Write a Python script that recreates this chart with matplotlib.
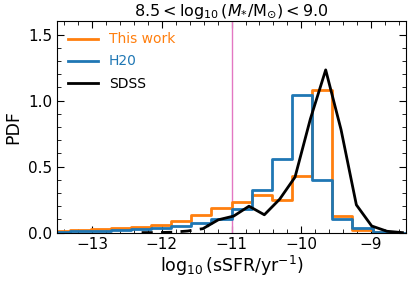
import numpy as np
import matplotlib
matplotlib.use("Agg")
import matplotlib.pyplot as plt
from matplotlib.ticker import MultipleLocator

# bin edges of the two histograms (18 bins)
bin_edges = np.linspace(-13.6, -8.4, 19)

# This work
this_work = [0.015, 0.02, 0.026, 0.035, 0.045, 0.055, 0.088, 0.133, 0.187,
             0.233, 0.285, 0.248, 0.425, 1.08, 0.122, 0.017, 0.003, 0.0]
# H20
h20 = [0.008, 0.011, 0.015, 0.02, 0.028, 0.035, 0.05, 0.072, 0.102,
       0.18, 0.323, 0.556, 1.045, 0.4, 0.105, 0.035, 0.008, 0.0]

# SDSS curve
sdss_x = [-12.29, -12.07, -11.85, -11.63, -11.41, -11.19, -10.97, -10.75,
          -10.53, -10.31, -10.09, -9.87, -9.65, -9.43, -9.21, -8.99, -8.77, -8.55]
sdss_y = [0.0, 0.0, 0.003, 0.012, 0.03, 0.097, 0.125, 0.2,
          0.135, 0.253, 0.42, 0.86, 1.232, 0.78, 0.21, 0.05, 0.01, 0.0]
sdss_cut = -11.33  # dashed below this

ssfr_limit = -11.0

fig = plt.figure(figsize=(4.15, 2.84), dpi=100)
ax = fig.add_axes([0.138, 0.181, 0.840, 0.744])

ax.axvline(ssfr_limit, color="tab:pink", lw=1)

ax.step(bin_edges, np.append(this_work, this_work[-1]), where="post",
        color="tab:orange", lw=2, label="This work")
ax.step(bin_edges, np.append(h20, h20[-1]), where="post",
        color="tab:blue", lw=2, label="H20")

# sdss: dashed under the cut, solid above
sx = np.array(sdss_x)
sy = np.array(sdss_y)
ycut = np.interp(sdss_cut, sx, sy)
lo = sx < sdss_cut
ax.plot(np.append(sx[lo], sdss_cut), np.append(sy[lo], ycut), color="k", lw=2, ls=(0, (4, 3)))
ax.plot(np.insert(sx[~lo], 0, sdss_cut), np.insert(sy[~lo], 0, ycut), color="k", lw=2, label="SDSS")

ax.set_xlim(-13.5, -8.5)
ax.set_ylim(0, 1.6)
ax.xaxis.set_major_locator(MultipleLocator(1))
ax.xaxis.set_minor_locator(MultipleLocator(0.2))
ax.yaxis.set_major_locator(MultipleLocator(0.5))
ax.yaxis.set_minor_locator(MultipleLocator(0.1))
ax.tick_params(which="both", direction="in", top=True, right=True, labelsize=11)
ax.tick_params(which="major", length=5)
ax.tick_params(which="minor", length=3)

ax.set_xlabel(r"$\log_{10}(\mathrm{sSFR/yr^{-1}})$", fontsize=12.5, labelpad=1)
ax.set_ylabel("PDF", fontsize=12.5)
ax.set_title(r"$8.5 < \log_{10}(M_{*}/\mathrm{M_{\odot}}) < 9.0$", fontsize=11.5, pad=2)

ax.legend(loc="upper left", frameon=False, fontsize=10, labelcolor="linecolor",
          handlelength=2.1, borderaxespad=0.4, labelspacing=0.58)

fig.savefig("out.png", dpi=100)
